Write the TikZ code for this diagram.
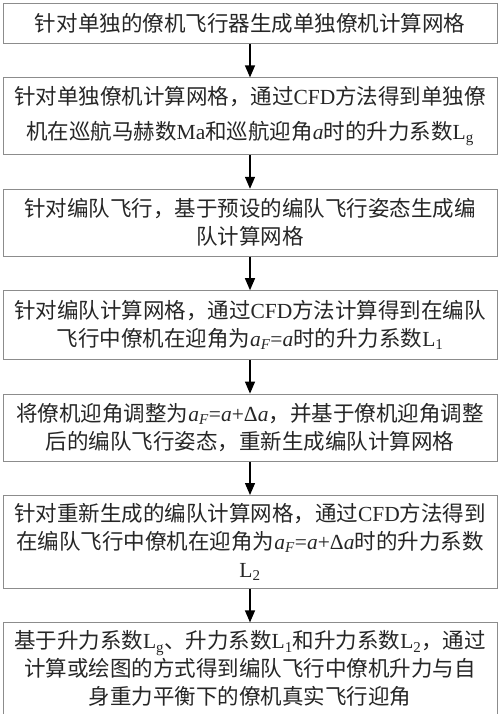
\documentclass[tikz,border=0pt]{standalone}
\usepackage{fontspec}
\setmainfont{Noto Sans CJK SC}
\newfontfamily\latinrm{Liberation Serif}
\usepackage{tikz}
\usetikzlibrary{positioning,arrows.meta}

\newcommand{\lat}[1]{{\latinrm #1}}
\newcommand{\angA}{{\latinrm\itshape a}}
\newcommand{\angF}{{\latinrm\itshape a\textsubscript{F}}}
\newcommand{\coefL}[1]{{\latinrm L\textsubscript{#1}}}

\tikzset{
  stepbox/.style={draw=black!45, line width=0.9pt, text width=494pt, inner xsep=0pt,
    align=center, font=\fontsize{21.5pt}{28pt}\selectfont, text=black!85},
  arr/.style={-{Triangle[length=12pt,width=10pt]}, line width=1.3pt, black}
}

\begin{document}
\begin{tikzpicture}[node distance=33.5pt]
  \useasboundingbox (0,0) rectangle (500pt,-714pt);

  \node[stepbox, anchor=north, minimum height=40pt] (s1) at (250pt,-3pt)
    {针对单独的僚机飞行器生成单独僚机计算网格};
  \node[stepbox, below=of s1, minimum height=77pt, font=\fontsize{21.5pt}{35pt}\selectfont] (s2)
    {针对单独僚机计算网格，通过\lat{CFD}方法得到单独僚\\
     机在巡航马赫数\lat{Ma}和巡航迎角\angA{}时的升力系数\coefL{g}};
  \node[stepbox, below=of s2, minimum height=67pt] (s3)
    {针对编队飞行，基于预设的编队飞行姿态生成编\\
     队计算网格};
  \node[stepbox, below=of s3, minimum height=69pt] (s4)
    {针对编队计算网格，通过\lat{CFD}方法计算得到在编队\\
     飞行中僚机在迎角为\angF\lat{=}\angA{}时的升力系数\coefL{1}};
  \node[stepbox, below=of s4, minimum height=67pt] (s5)
    {将僚机迎角调整为\angF\lat{=}\angA\lat{+}\lat{Δ}\angA，并基于僚机迎角调整\\
     后的编队飞行姿态，重新生成编队计算网格};
  \node[stepbox, below=of s5, minimum height=93pt] (s6)
    {针对重新生成的编队计算网格，通过\lat{CFD}方法得到\\
     在编队飞行中僚机在迎角为\angF\lat{=}\angA\lat{+}\lat{Δ}\angA{}时的升力系数\\
     \coefL{2}};
  \node[stepbox, below=of s6, minimum height=92pt] (s7)
    {基于升力系数\coefL{g}、升力系数\coefL{1}和升力系数\coefL{2}，通过\\
     计算或绘图的方式得到编队飞行中僚机升力与自\\
     身重力平衡下的僚机真实飞行迎角};

  % arrows between the steps
  \foreach \a/\b in {s1/s2,s2/s3,s3/s4,s4/s5,s5/s6,s6/s7}
    \draw[arr] (\a) -- (\b);
\end{tikzpicture}
\end{document}
